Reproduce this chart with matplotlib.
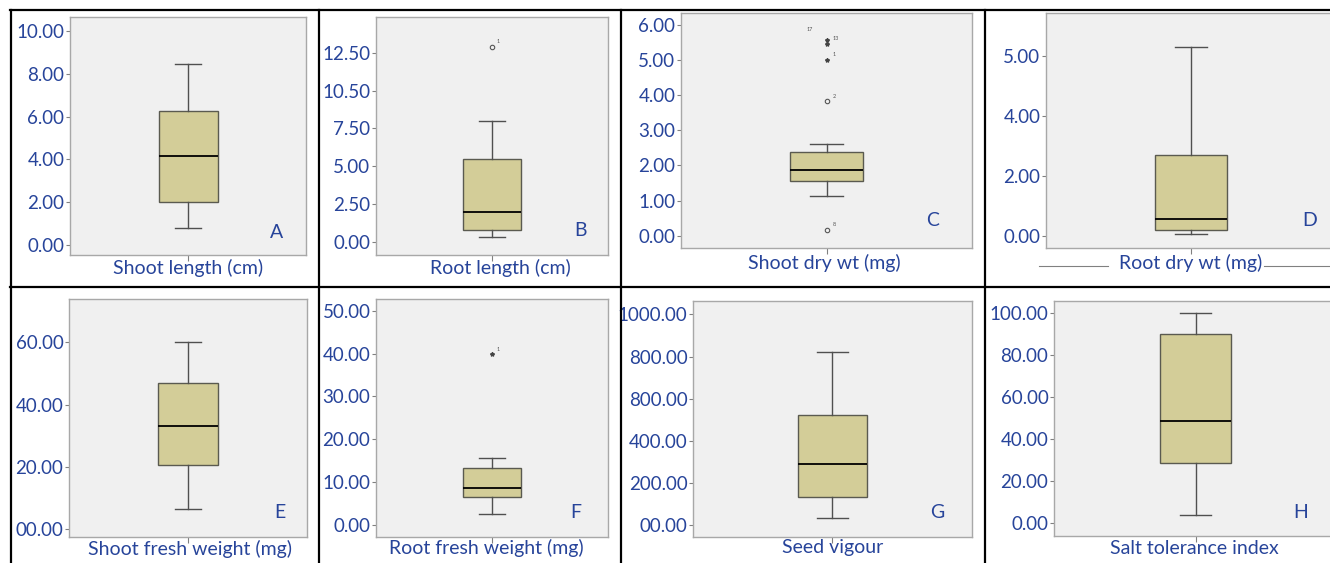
import matplotlib.pyplot as plt
from matplotlib.lines import Line2D

# box statistics (one entry per panel A..H)
names = ["Shoot length (cm)", "Root length (cm)", "Shoot dry wt (mg)", "Root dry wt (mg)",
         "Shoot fresh weight (mg)", "Root fresh weight (mg)", "Seed vigour", "Salt tolerance index"]
letters = ["A", "B", "C", "D", "E", "F", "G", "H"]
whislo = [0.78, 0.33, 1.13, 0.08, 6.4, 2.6, 32, 3.8]
q1 = [2.0, 0.81, 1.56, 0.20, 20.6, 6.4, 133, 28.7]
med = [4.15, 1.98, 1.87, 0.57, 33.0, 8.7, 288, 48.6]
q3 = [6.27, 5.51, 2.38, 2.69, 47.0, 13.2, 522, 90.1]
whishi = [8.45, 7.98, 2.62, 6.28, 60.2, 15.6, 821, 100.3]

# outliers: (panel index, value, case label, marker)
out_panel = [1, 2, 2, 2, 2, 2, 5]
out_value = [12.9, 5.55, 5.45, 5.0, 3.82, 0.17, 39.9]
out_case = ["1", "17", "13", "1", "2", "8", "1"]
out_kind = ["o", "*", "*", "*", "o", "o", "*"]

ytick_vals = [[0, 2, 4, 6, 8, 10],
              [0, 2.5, 5, 7.5, 10, 12.5],
              [0, 1, 2, 3, 4, 5, 6],
              [0, 2, 4, 6],
              [0, 20, 40, 60],
              [0, 10, 20, 30, 40, 50],
              [0, 200, 400, 600, 800, 1000],
              [0, 20, 40, 60, 80, 100]]
ytick_text = [["0.00", "2.00", "4.00", "6.00", "8.00", "10.00"],
              ["0.00", "2.50", "5.00", "7.50", "10.50", "12.50"],
              ["0.00", "1.00", "2.00", "3.00", "4.00", "5.00", "6.00"],
              ["0.00", "2.00", "4.00", "5.00"],
              ["00.00", "20.00", "40.00", "60.00"],
              ["0.00", "10.00", "20.00", "30.00", "40.00", "50.00"],
              ["00.00", "200.00", "400.00", "800.00", "800.00", "1000.00"],
              ["0.00", "20.00", "40.00", "60.00", "80.00", "100.00"]]

# layout in pixels: panel rectangle (x0, y0, x1, y1), y-limits, label/letter positions
W, H = 1330, 563
rects = [(70, 17, 306, 255), (376, 17, 608, 255), (681, 13, 972, 248), (1046, 13, 1336, 248),
         (69, 299, 307, 537), (376, 299, 608, 537), (693, 301, 972, 537), (1054, 301, 1337, 536)]
ylims = [(-0.47, 10.65), (-0.84, 14.85), (-0.35, 6.33), (-0.39, 7.42),
         (-2.57, 73.9), (-2.87, 52.8), (-58, 1064), (-6.2, 105.9)]
label_xy = [(188, 268), (500, 268), (824, 263), (1191, 263),
            (190, 549), (486, 548), (833, 548), (1194, 548)]
letter_xy = [(277, 232), (580, 231), (933, 220), (1310, 221),
             (280, 513), (576, 513), (937, 513), (1301, 513)]

blue = "#27449a"
plt.rcParams['font.family'] = ['Lato', 'DejaVu Sans']

fig = plt.figure(figsize=(W / 100, H / 100), dpi=100)

for i in range(8):
    x0, y0, x1, y1 = rects[i]
    ax = fig.add_axes([x0 / W, 1 - y1 / H, (x1 - x0) / W, (y1 - y0) / H])
    ax.set_facecolor("#f0f0f0")
    stats = [dict(whislo=whislo[i], q1=q1[i], med=med[i], q3=q3[i], whishi=whishi[i], fliers=[])]
    ax.bxp(stats, positions=[1], widths=0.25, capwidths=0.11, patch_artist=True,
           showfliers=False,
           boxprops=dict(facecolor="#d3cd98", edgecolor="#5a5a50", linewidth=1),
           medianprops=dict(color="black", linewidth=1.3),
           whiskerprops=dict(color="#505050", linewidth=1),
           capprops=dict(color="#505050", linewidth=1))
    for p, v, c, k in zip(out_panel, out_value, out_case, out_kind):
        if p != i:
            continue
        if k == "o":
            ax.plot(1, v, marker="o", ms=3.2, mfc="none", mec="#555555", mew=0.8)
        else:
            ax.plot(1, v, marker="*", ms=3, color="#444444")
        dx = -0.07 if c == "17" else 0.02
        dy = (ylims[i][1] - ylims[i][0]) * (0.04 if c == "17" else 0.015)
        ax.text(1 + dx, v + dy, c, fontsize=4, color="#555555")
    ax.set_xlim(0.5, 1.5)
    ax.set_ylim(*ylims[i])
    ax.set_xticks([1])
    ax.set_xticklabels([""])
    ax.set_yticks(ytick_vals[i])
    ax.set_yticklabels(ytick_text[i])
    ax.tick_params(axis="y", length=3, width=0.8, color="#808080", pad=1,
                   labelsize=13.5, labelcolor=blue)
    ax.tick_params(axis="x", length=4, width=0.8, color="#808080")
    for s in ax.spines.values():
        s.set_color("#a8a8a8")
        s.set_linewidth(1)
    fig.text(label_xy[i][0] / W, 1 - label_xy[i][1] / H, names[i], ha="center", va="center",
             fontsize=14, color=blue)
    fig.text(letter_xy[i][0] / W, 1 - letter_xy[i][1] / H, letters[i], ha="center", va="center",
             fontsize=14, color=blue)

# side rules around the D label
for xa, xb in [(1039, 1108), (1264, 1330)]:
    fig.add_artist(Line2D([xa / W, xb / W], [1 - 265.5 / H] * 2, color="#808080", lw=0.8))

# cell grid of the figure table
for xv in [10.5, 318.5, 621, 985]:
    fig.add_artist(Line2D([xv / W] * 2, [0, 1 - 10 / H], color="black", lw=1.6))
for yv in [10, 287]:
    fig.add_artist(Line2D([10 / W, 1], [1 - yv / H] * 2, color="black", lw=1.6))

fig.savefig("out.png", dpi=100)
